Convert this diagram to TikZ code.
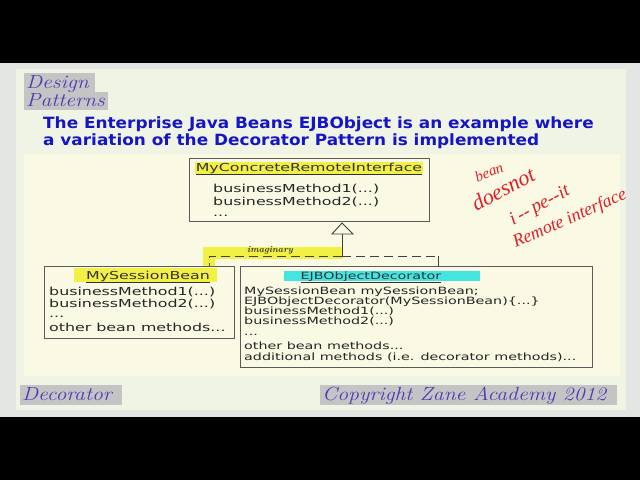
\documentclass[tikz,border=0pt]{standalone}
\usepackage{fontspec}
\setmainfont{DejaVu Sans}
\newfontfamily\slidescript{Latin Modern Roman}
\newfontfamily\handfont{Liberation Serif}
\definecolor{slidegray}{HTML}{E4E6E4}
\definecolor{innerbg}{HTML}{EFF4E4}
\definecolor{diagbg}{HTML}{F9F9E4}
\definecolor{titleblue}{HTML}{1414C8}
\definecolor{scriptblue}{HTML}{4A3CB4}
\definecolor{labelgray}{HTML}{C4C4C4}
\definecolor{hiyellow}{HTML}{F2F044}
\definecolor{hicyan}{HTML}{44E4E0}
\definecolor{boxline}{HTML}{5A5A5A}
\definecolor{inkred}{HTML}{E01E28}
\newcommand{\wideA}[1]{\scalebox{1.44}[1]{#1}}
\newcommand{\wideB}[1]{\scalebox{1.43}[1]{#1}}
\newcommand{\wideT}[1]{\scalebox{1.09}[1]{#1}}
\newcommand{\wideS}[1]{\scalebox{1.14}[1]{#1}}
\begin{document}
\begin{tikzpicture}[x=1pt,y=-1pt,
  umlbox/.style={draw=boxline,line width=1.1pt,fill=none,inner sep=0pt,anchor=north west},
  mtextA/.style={anchor=base west,inner sep=0pt,font=\fontsize{11}{13}\selectfont,text=black!85},
  mtextB/.style={anchor=base west,inner sep=0pt,font=\fontsize{10}{12}\selectfont,text=black!85},
  hdr/.style={anchor=base,inner sep=0pt,font=\fontsize{11}{13}\selectfont,text=black!80},
  scripttext/.style={anchor=base west,inner sep=0pt,text=scriptblue,font=\slidescript\itshape\fontsize{19}{20}\selectfont},
  graylabel/.style={fill=labelgray,inner sep=0pt,anchor=north west},
  titletext/.style={anchor=base west,inner sep=0pt,text=titleblue,font=\bfseries\fontsize{15.5}{17}\selectfont},
  ink/.style={text=inkred,inner sep=0pt,font=\handfont\itshape\fontsize{17}{18}\selectfont},
  conn/.style={draw=black!75,line width=0.9pt,dash pattern=on 9pt off 5pt}
]
\useasboundingbox (0,0) rectangle (640,480);
\fill[black] (0,0) rectangle (640,480);
\fill[slidegray] (0,63) rectangle (640,417);
\fill[innerbg] (16,69) rectangle (626,410);
\fill[diagbg] (24,154) rectangle (620,376);

% top-left label
\node[graylabel,minimum width=71,minimum height=19] (dlab) at (24,73) {};
\node[graylabel,minimum width=84,minimum height=18] (plab) at (24,92) {};
\node[scripttext] (design) at (26,88) {\wideS{Design}};
\node[scripttext] (patterns) at (26,106) {\wideS{Patterns}};

% title
\node[titletext] (t1) at (43,128) {\wideT{The Enterprise Java Beans EJBObject is an example where}};
\node[titletext] (t2) at (43,145) {\wideT{a variation of the Decorator Pattern is implemented}};

% highlights
\fill[hiyellow] (195,162) rectangle (423,174);
\fill[hiyellow] (74,268) rectangle (217,282);
\fill[hicyan] (284,271) rectangle (480,281);
\fill[hiyellow] (203,247) rectangle (343,259);
\fill[hiyellow] (203,247) rectangle (215,266);

% interface box
\node[umlbox,minimum width=240,minimum height=63] (iface) at (189,158) {};
\node[hdr] (ifh) at (309,171) {\wideA{\underline{MyConcreteRemoteInterface}}};
\node[mtextA] (if1) at (213,192) {\wideA{businessMethod1(...)}};
\node[mtextA] (if2) at (213,205) {\wideA{businessMethod2(...)}};
\node[mtextA] (if3) at (213,216) {\wideA{...}};

% MySessionBean box
\node[umlbox,minimum width=190,minimum height=72] (sb) at (44,266) {};
\node[hdr] (sbh) at (148,279) {\wideA{\underline{MySessionBean}}};
\node[mtextA] (sb1) at (49,295) {\wideA{businessMethod1(...)}};
\node[mtextA] (sb2) at (49,307) {\wideA{businessMethod2(...)}};
\node[mtextA] (sb3) at (49,317) {\wideA{...}};
\node[mtextA] (sb4) at (49,331) {\wideA{other bean methods...}};

% EJBObjectDecorator box
\node[umlbox,minimum width=352,minimum height=101] (dec) at (240,266) {};
\node[hdr,font=\fontsize{10}{12}\selectfont] (dech) at (371,279) {\wideB{\underline{EJBObjectDecorator}}};
\node[mtextB] (d1) at (244,294) {\wideB{MySessionBean mySessionBean;}};
\node[mtextB] (d2) at (244,304) {\wideB{EJBObjectDecorator(MySessionBean)\{...\}}};
\node[mtextB] (d3) at (244,314) {\wideB{businessMethod1(...)}};
\node[mtextB] (d4) at (244,324) {\wideB{businessMethod2(...)}};
\node[mtextB] (d5) at (244,335) {\wideB{...}};
\node[mtextB] (d6) at (244,349) {\wideB{other bean methods...}};
\node[mtextB] (d7) at (244,360) {\wideB{additional methods (i.e. decorator methods)...}};

% realization connectors
\coordinate (tip) at (342,223);
\coordinate (bl) at (332,234);
\coordinate (br) at (353,234);
\coordinate (stem) at (342,234);
\coordinate (join) at (342,256);
\coordinate (lcorner) at (209,256);
\coordinate (rcorner) at (438,256);
\coordinate (sbtop) at (209,266);
\coordinate (dectop) at (438,266);
\draw[draw=black!75,line width=0.9pt,fill=diagbg] (tip) -- (br) -- (bl) -- cycle;
\draw[draw=black!75,line width=0.9pt] (stem) -- (join);
\draw[conn] (join) -- (lcorner) -- (sbtop);
\draw[conn] (join) -- (rcorner);
\draw[draw=black!75,line width=0.9pt] (rcorner) -- (dectop);
\node[anchor=base,inner sep=0pt,text=black!80,font=\slidescript\itshape\bfseries\fontsize{9}{10}\selectfont] (imag) at (270,252) {imaginary};

% handwritten note
\node[ink,rotate=22,font=\handfont\itshape\fontsize{15}{16}\selectfont] (bean) at (489,172) {bean};
\node[ink,rotate=28,font=\handfont\itshape\fontsize{22}{24}\selectfont] (doesnot) at (503,189) {doesnot};
\node[ink,rotate=28,font=\handfont\itshape\fontsize{19}{20}\selectfont] (permit) at (540,206) {i\,--\,pe--it};
\node[ink,rotate=24,font=\handfont\itshape\fontsize{18}{19}\selectfont] (remote) at (570,219) {Remote interface};

% footer
\node[graylabel,minimum width=102,minimum height=20] (declab) at (20,385) {};
\node[scripttext] (dectext) at (22,400) {\wideS{Decorator}};
\node[graylabel,minimum width=297,minimum height=20] (coplab) at (320,385) {};
\node[scripttext] (coptext) at (322,400) {\wideS{Copyright Zane Academy 2012}};
\end{tikzpicture}
\end{document}
